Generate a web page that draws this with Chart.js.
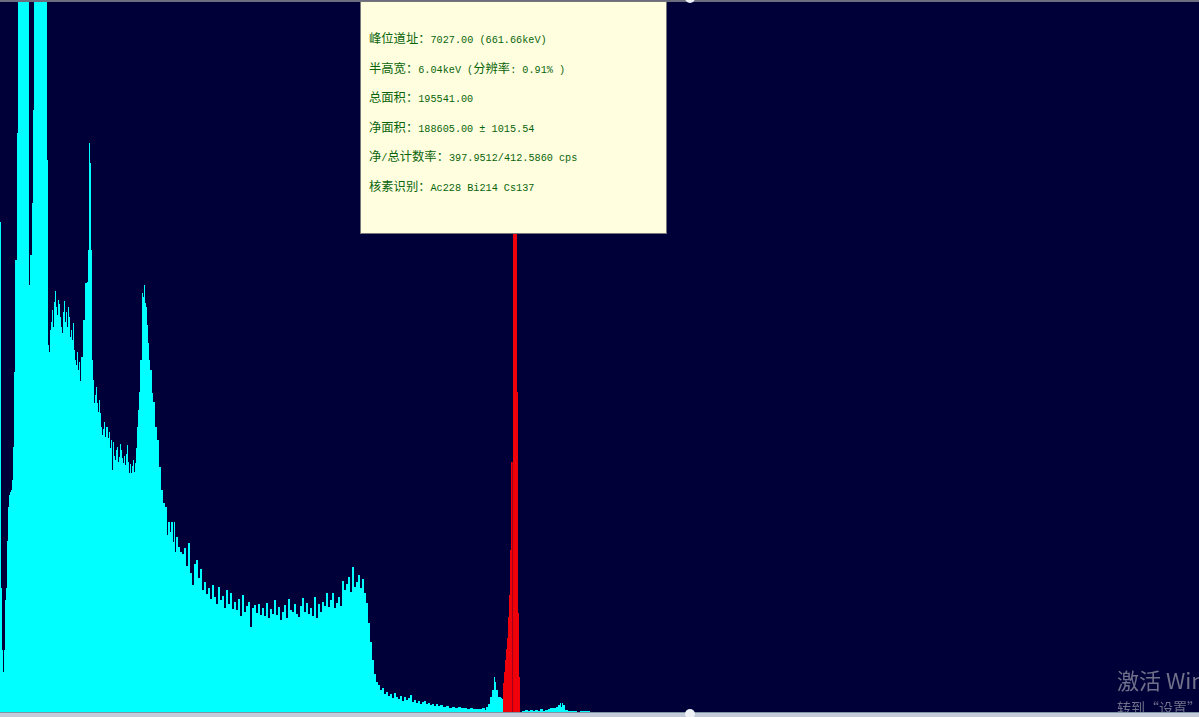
<!DOCTYPE html>
<html lang="zh">
<head>
<meta charset="utf-8">
<title>能谱</title>
<script src="https://cdn.jsdelivr.net/npm/chart.js@4"></script>
<style>
  html, body { margin: 0; padding: 0; background: #000039; overflow: hidden; }
  #pagina { position: relative; width: 1199px; height: 717px; overflow: hidden; }
  canvas { position: absolute; left: 0; top: 0; }
  #lineaSup { position: absolute; left: 0; top: 0; width: 1199px; height: 2px; background: #6d6d80; }
  #barraInf { position: absolute; left: 0; top: 712px; width: 1199px; height: 5px; background: #c3cbd9; border-top: 1px solid #7f95a5; box-sizing: border-box; }
  .asa { position: absolute; left: 685px; width: 10px; height: 10px; border-radius: 5px; background: #eef1f5; }
  #info { position: absolute; left: 360px; top: 1px; width: 305px; height: 231px; background: #ffffe0; border: 1px solid #777; color: #0a640a; }
  #info div { position: absolute; left: 8px; height: 16px; line-height: 16px; white-space: pre; font-family: "Liberation Mono", monospace; font-size: 10.2px; }
  #info span { font-family: "Noto Sans CJK SC", sans-serif; font-size: 12.3px; }
  #aviso1, #aviso2 { position: absolute; left: 1117px; white-space: nowrap; color: #70708a; font-family: "Noto Sans CJK SC", sans-serif; }
  #aviso1 { top: 663px; font-size: 22px; line-height: 32px; }
  #aviso2 { top: 697px; font-size: 14px; line-height: 20px; }
</style>
</head>
<body>
<div id="pagina">
  <canvas id="chart" width="1199" height="717"></canvas>
  <div id="aviso1">激活 Windows</div>
  <div id="aviso2">转到“设置”以激活 Windows。</div>
  <div id="lineaSup"></div>
  <div id="barraInf"></div>
  <div class="asa" style="top:-7px"></div>
  <div class="asa" style="top:709px"></div>
  <div id="info"></div>
</div>
<script>
// Espectro de fondo (cian), columna de pantalla y altura
const canales = [
  0,1,2,3,4,5,6,7,8,9,10,11,12,13,14,15,16,17,18,29,30,31,32,33,34,47,48,49,50,51,52,53,54,55,56,57,58,59,60,61,62,63,64,65,66,67,68,69,70,71,72,73,74,75,76,77,78,79,80,81,
  83,85,87,88,89,90,91,92,93,94,95,96,97,98,99,100,101,102,103,104,105,106,108,109,110,111,112,113,114,115,116,117,118,119,120,121,122,123,124,125,126,127,128,129,130,131,132,133,134,135,136,137,138,139,140,141,
  142,143,144,145,146,147,148,149,150,152,153,155,157,159,161,163,165,167,168,170,171,173,174,175,176,178,
  180,182,184,186,188,190,192,194,196,198,200,202,204,206,208,210,212,214,216,218,220,222,224,226,228,230,232,234,236,238,240,242,244,246,248,250,252,254,256,258,260,262,264,266,268,270,272,274,276,278,
  280,282,284,286,288,290,292,294,296,298,300,302,304,306,308,310,312,314,316,318,320,322,324,326,328,330,332,334,336,338,340,342,344,346,348,350,352,354,356,358,360,362,364,366,368,370,372,374,376,378,380,
  382,384,386,388,390,392,394,396,398,400,402,404,406,408,410,412,414,416,418,420,422,424,426,428,430,432,434,436,438,440,443,446,449,452,455,458,461,464,467,470,473,476,479,482,485,486,488,490,492,494,495,496,498,501,502,503,
  520,522,525,528,530,533,535,538,540,543,545,548,550,553,556,558,560,561,562,563,565,568,575,577,580,590,600
];
const cuentas = [
  490,124,62,40,62,112,124,171,205,217,220,222,232,265,340,452,452,579,710,427,457,457,509,602,710,552,367,360,382,390,402,385,410,421,405,397,412,408,395,385,379,400,411,390,400,385,405,395,375,382,372,389,362,352,347,360,342,350,331,355,
  392,429,430,462,569,549,462,352,332,309,317,325,309,300,312,299,285,277,283,290,275,285,274,280,264,272,242,270,256,252,262,265,250,255,268,262,254,249,256,247,258,267,250,239,248,239,246,252,240,249,264,285,302,320,352,352,
  419,415,427,409,405,387,369,352,342,319,310,285,272,245,222,209,205,177,190,180,190,170,190,160,175,165,
  160,158,164,146,169,139,127,148,152,134,143,122,130,118,124,113,127,115,108,125,112,116,104,122,108,119,103,110,102,113,96,117,100,106,110,85,104,107,99,108,97,104,96,109,94,103,98,112,97,105,
  92,100,107,94,113,102,100,108,98,95,106,114,100,109,98,104,96,115,94,108,100,110,106,119,105,112,119,104,109,115,106,131,122,128,135,120,145,125,130,137,124,133,119,109,89,70,52,38,30,27,22,
  24,18,20,16,18,14,19,15,13,16,11,15,12,14,17,10,12,9,11,8,10,11,8,9,7,8,6,8,6,7,5,6,4,5,4,5,4,4,3,4,3,3,3,4,2,5,8,15,22,35,30,22,15,14,13,0,
  0,1,2,1,2,1,2,1,3,1,2,3,4,4,5,7,9,5,9,7,2,1,1,0,1,0,0
];

// Pico de Cs137 en rojo
const canalesPico = [502,503,504,505,506,507,508,509,510,511,512,513,517,518,519,520];
const cuentasPico = [0,29,40,52,63,74,95,117,162,250,0,710,320,99,35,0];

// Linea oscura del canal del pico
const canalesMarca = [512,513];
const cuentasMarca = [250,0];

const infoLineas = [
  "峰位道址\uff1a7027.00 (661.66keV)",
  "半高宽\uff1a6.04keV (分辨率: 0.91% )",
  "总面积\uff1a195541.00",
  "净面积\uff1a188605.00 ± 1015.54",
  "净/总计数率\uff1a397.9512/412.5860 cps",
  "核素识别\uff1aAc228 Bi214 Cs137"
];

const serie = (xs, ys, color) => ({
  data: xs.map((x, i) => ({ x: x, y: ys[i] })),
  backgroundColor: color,
  borderWidth: 0,
  pointRadius: 0,
  fill: 'origin',
  stepped: true
});

new Chart(document.getElementById('chart').getContext('2d'), {
  type: 'line',
  data: {
    datasets: [
      serie(canales, cuentas, '#00ffff'),
      serie(canalesPico, cuentasPico, '#f00008'),
      serie(canalesMarca, cuentasMarca, '#a00018')
    ]
  },
  options: {
    responsive: false,
    animation: false,
    layout: { padding: { top: 2, bottom: 5, left: 0, right: 0 } },
    plugins: { legend: { display: false }, tooltip: { enabled: false } },
    scales: {
      x: { type: 'linear', min: 0, max: 1199, display: false },
      y: { min: 0, max: 710, display: false }
    }
  }
});

// Recuadro de informacion, los caracteres chinos van algo mas grandes
const info = document.getElementById('info');
infoLineas.forEach((texto, i) => {
  const d = document.createElement('div');
  d.style.top = (28 + i * 29.6) + 'px';
  d.innerHTML = texto.replace(/[\u4e00-\u9fff\uff1a]+/g, m => '<span>' + m + '</span>');
  info.appendChild(d);
});
</script>
</body>
</html>
